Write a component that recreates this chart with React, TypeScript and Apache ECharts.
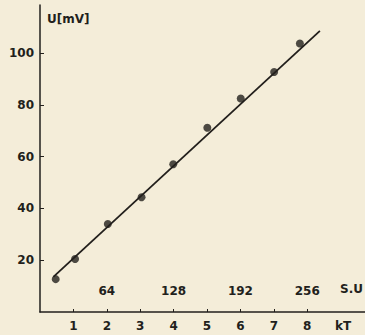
import React, { useEffect, useRef } from "react";
import * as echarts from "echarts";

const kT = [0.47, 1.05, 2.03, 3.04, 3.99, 5.01, 6.01, 7.01, 7.78];
const U = [12.7, 20.5, 34.0, 44.3, 57.1, 71.2, 82.5, 92.7, 103.7];
const fitLine = [
  [0.4, 13.6],
  [8.38, 108.6],
];
const kTTicks = [1, 2, 3, 4, 5, 6, 7, 8];
const suTicks = [64, 128, 192, 256];
const uTicks = [20, 40, 60, 80, 100];
const SU_PER_KT = 32;

const INK = "#221f1c";
const BG = "#f4edd9";
const FONT = "DejaVu Sans";

export default function App() {
  const ref = useRef<HTMLDivElement>(null);
  useEffect(() => {
    document.body.style.margin = "0";
    document.body.style.background = BG;
    const chart = echarts.init(ref.current!, null, { renderer: "svg" });
    chart.setOption({
      animation: false,
      backgroundColor: BG,
      grid: { left: 40, right: 0, top: 5, bottom: 23 },
      xAxis: [
        {
          type: "value",
          min: 0,
          max: 9.73,
          splitLine: { show: false },
          axisLine: { show: true, lineStyle: { color: INK, width: 1.5 } },
          axisTick: {
            show: true,
            inside: true,
            length: 3,
            customValues: kTTicks,
            lineStyle: { color: INK, width: 1 },
          },
          axisLabel: {
            customValues: kTTicks,
            margin: 8,
            color: INK,
            fontFamily: FONT,
            fontWeight: "bold",
            fontSize: 12,
          },
        },
        {
          type: "value",
          position: "bottom",
          min: 0,
          max: 9.73,
          splitLine: { show: false },
          axisLine: { show: false },
          axisTick: { show: false },
          axisLabel: {
            inside: true,
            margin: 15,
            customValues: suTicks.map((s) => s / SU_PER_KT),
            formatter: (v: number) => String(Math.round(v * SU_PER_KT)),
            color: INK,
            fontFamily: FONT,
            fontWeight: "bold",
            fontSize: 12,
          },
        },
      ],
      yAxis: {
        type: "value",
        min: 0,
        max: 118.6,
        splitLine: { show: false },
        axisLine: { show: true, lineStyle: { color: INK, width: 1.5 } },
        axisTick: {
          show: true,
          inside: true,
          length: 4,
          customValues: uTicks,
          lineStyle: { color: INK, width: 1 },
        },
        axisLabel: {
          customValues: uTicks,
          margin: 6,
          color: INK,
          fontFamily: FONT,
          fontWeight: "bold",
          fontSize: 12,
        },
      },
      graphic: [
        {
          type: "text",
          left: 47,
          top: 13,
          style: { text: "U[mV]", fill: INK, font: `bold 12px "${FONT}"` },
        },
        {
          type: "text",
          left: 340,
          top: 283,
          style: { text: "S.U", fill: INK, font: `bold 12px "${FONT}"` },
        },
        {
          type: "text",
          left: 335,
          top: 320,
          style: { text: "kT", fill: INK, font: `bold 12px "${FONT}"` },
        },
      ],
      series: [
        {
          type: "line",
          data: fitLine,
          showSymbol: false,
          lineStyle: { color: INK, width: 1.8 },
          silent: true,
        },
        {
          type: "scatter",
          data: kT.map((x, i) => [x, U[i]]),
          symbol: "circle",
          symbolSize: 8,
          itemStyle: { color: INK },
        },
      ],
    });
    return () => chart.dispose();
  }, []);
  return <div ref={ref} style={{ width: 365, height: 335 }} />;
}
